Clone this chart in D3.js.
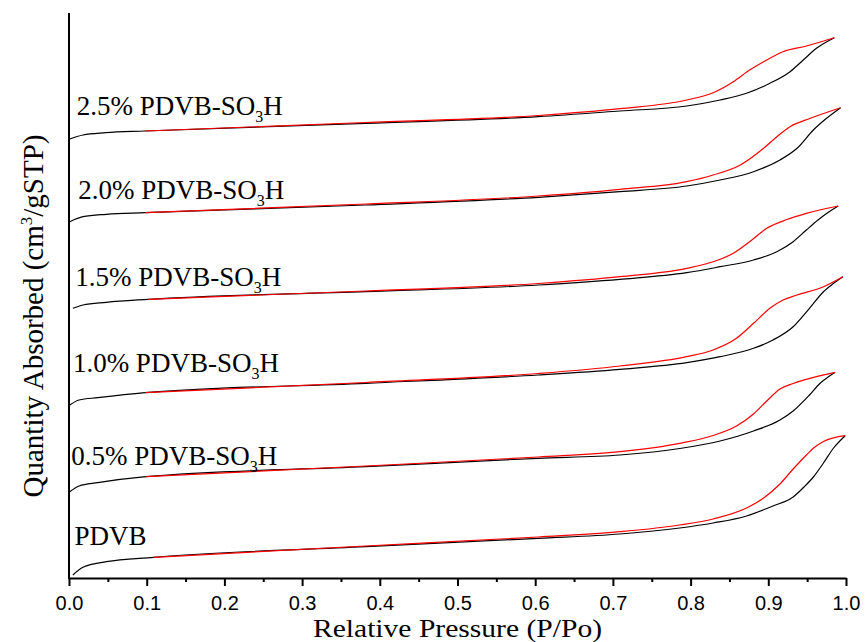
<!DOCTYPE html>
<html>
<head>
<meta charset="utf-8">
<script src="https://cdn.jsdelivr.net/npm/d3@7"></script>
<style>
  body { margin: 0; background: #fff; }
  svg { display: block; }
  .serif { font-family: "Liberation Serif", "Times New Roman", Times, serif; }
  .sans { font-family: "Liberation Sans", Arial, Helvetica, sans-serif; }
</style>
</head>
<body>
<div id="chart"></div>
<script>
// isotherms, [P/Po, quantity (offset, arbitrary units)]
const samples = ["PDVB", "0.5%", "1.0%", "1.5%", "2.0%", "2.5%"];

const pdvbAds = [[0.005,3],[0.018,10.7],[0.048,16.3],[0.109,20.7],[0.382,31.3],[0.604,39.7],[0.709,44],[0.786,50],[0.829,55],[0.872,62],[0.906,72],[0.932,81],[0.946,91],[0.958,101],[0.971,115],[0.984,130],[0.999,142.3]];
const pdvbDes = [[0.109,20.7],[0.382,32],[0.604,41],[0.709,46.3],[0.786,53],[0.829,59],[0.872,70],[0.894,80],[0.915,94],[0.932,109],[0.949,123],[0.960,131],[0.971,136.5],[0.999,142.3]];

const s05Ads = [[0.001,86.3],[0.013,92],[0.037,95.3],[0.099,101.3],[0.382,111.3],[0.604,119.7],[0.709,123],[0.786,129.5],[0.838,137],[0.881,147],[0.915,158],[0.932,167],[0.953,183],[0.967,195],[0.977,201],[0.986,205.7]];
const s05Des = [[0.099,101.3],[0.382,112],[0.604,121],[0.709,126.3],[0.786,134.7],[0.829,142.5],[0.859,152],[0.881,164],[0.898,177],[0.915,189],[0.932,194.5],[0.949,198.7],[0.986,205.7]];

const s10Ads = [[0.001,173],[0.013,178],[0.037,180.3],[0.098,185.3],[0.382,194.7],[0.604,203],[0.709,208.7],[0.795,215.3],[0.838,221.3],[0.881,229.7],[0.906,238],[0.932,251.3],[0.953,269.7],[0.971,286.3],[0.984,294.7],[0.996,301.3]];
const s10Des = [[0.098,185.3],[0.382,195.5],[0.604,204.5],[0.709,212],[0.795,221.3],[0.829,228],[0.859,239.7],[0.881,254.7],[0.902,269.7],[0.919,278],[0.937,283],[0.971,291.3],[0.996,301.3]];

const s15Ads = [[0.005,269.7],[0.018,273],[0.048,275.7],[0.102,278.7],[0.382,286.3],[0.604,293],[0.709,298.7],[0.795,305.3],[0.838,311.3],[0.881,318],[0.911,326.3],[0.932,336.3],[0.949,348],[0.964,358],[0.975,364.5],[0.99,372]];
const s15Des = [[0.102,278.7],[0.382,287],[0.604,294.5],[0.709,301.3],[0.795,309.7],[0.829,316.3],[0.855,324.7],[0.876,336.3],[0.898,349.7],[0.924,358.5],[0.949,364.7],[0.99,372]];

const s20Ads = [[0.001,356.3],[0.018,361.3],[0.048,363.7],[0.098,365.3],[0.382,373],[0.604,380.7],[0.709,386.3],[0.795,392],[0.838,398],[0.881,406.3],[0.915,418],[0.937,429.7],[0.958,448],[0.975,459.7],[0.993,470.3]];
const s20Des = [[0.098,365.3],[0.382,374],[0.604,382],[0.709,388.7],[0.795,396.3],[0.829,403],[0.864,413],[0.894,429.7],[0.911,441.3],[0.928,451.3],[0.954,459.7],[0.993,470.3]];

const s25Ads = [[0.0,438.7],[0.018,443],[0.047,445.3],[0.098,447],[0.382,454.7],[0.604,461.3],[0.709,467],[0.795,472],[0.838,478],[0.872,484.7],[0.902,494.7],[0.928,506.3],[0.945,518],[0.962,529.7],[0.985,540.3]];
const s25Des = [[0.098,447],[0.382,455.5],[0.604,462.5],[0.709,469.3],[0.795,478],[0.829,485.3],[0.855,496.3],[0.876,508],[0.894,516.3],[0.919,526.3],[0.949,532],[0.985,540.3]];

const adsorption = [pdvbAds, s05Ads, s10Ads, s15Ads, s20Ads, s25Ads];
const desorption = [pdvbDes, s05Des, s10Des, s15Des, s20Des, s25Des];

// label anchor: [P/Po, quantity] of text start/baseline
const labelPos = [[0.007,33],[0.003,113],[0.005,206],[0.008,292],[0.012,379],[0.010,463]];

const xTicks = d3.range(0, 1.0001, 0.1);
const xMinor = d3.range(0.05, 1, 0.1);

const width = 867, height = 642;
const margin = {left: 69, right: 21, top: 13, bottom: 64};

const svg = d3.select("#chart").append("svg")
    .attr("width", width)
    .attr("height", height);

const x = d3.scaleLinear().domain([0, 1]).range([margin.left, width - margin.right]);
const y = d3.scaleLinear().domain([0, 565]).range([height - margin.bottom, margin.top]);

const line = d3.line()
    .x(d => x(d[0]))
    .y(d => y(d[1]))
    .curve(d3.curveMonotoneX);

const curves = svg.append("g").attr("fill", "none").attr("stroke-width", 1.2);

adsorption.forEach(s => {
    curves.append("path").attr("d", line(s)).attr("stroke", "#000");
});
desorption.forEach(s => {
    curves.append("path").attr("d", line(s)).attr("stroke", "#ff0000");
});

// sample labels
samples.forEach((name, i) => {
    const t = svg.append("text")
        .attr("class", "serif")
        .attr("x", x(labelPos[i][0]))
        .attr("y", y(labelPos[i][1]))
        .style("font-size", "27px")
        .attr("fill", "#000");
    if (name === "PDVB") {
        t.text("PDVB");
    } else {
        t.append("tspan").text(name + " PDVB-SO");
        t.append("tspan").style("font-size", "16px").attr("dy", 7).text("3");
        t.append("tspan").attr("dy", -7).text("H");
    }
});

// axes
const xAxis = svg.append("g")
    .attr("transform", `translate(0,${y(0)})`)
    .call(d3.axisBottom(x).tickValues(xTicks).tickFormat(d3.format(".1f")).tickSize(8).tickSizeOuter(0));

xAxis.select(".domain").attr("stroke-width", 2);
xAxis.selectAll(".tick line").attr("stroke-width", 2);
xAxis.selectAll(".tick text")
    .attr("class", "sans")
    .style("font-size", "20px")
    .attr("fill", "#000")
    .attr("dy", null)
    .attr("y", 32);

const xMinorAxis = svg.append("g")
    .attr("transform", `translate(0,${y(0)})`)
    .call(d3.axisBottom(x).tickValues(xMinor).tickFormat("").tickSize(4).tickSizeOuter(0));
xMinorAxis.select(".domain").remove();
xMinorAxis.selectAll(".tick line").attr("stroke-width", 2);

svg.append("line")
    .attr("x1", x(0)).attr("x2", x(0))
    .attr("y1", y(0) + 1).attr("y2", y(565))
    .attr("stroke", "#000")
    .attr("stroke-width", 2);

// axis titles
svg.append("text")
    .attr("class", "serif")
    .attr("transform", `translate(${x(0.5)},637) scale(1.16,1)`)
    .attr("text-anchor", "middle")
    .style("font-size", "25.5px")
    .text("Relative Pressure (P/Po)");

const yTitle = svg.append("text")
    .attr("class", "serif")
    .attr("transform", "translate(43,316) rotate(-90)")
    .attr("text-anchor", "middle")
    .style("font-size", "29px");
yTitle.append("tspan").text("Quantity Absorbed (cm");
yTitle.append("tspan").style("font-size", "17px").attr("dy", -11).text("3");
yTitle.append("tspan").attr("dy", 11).text("/gSTP)");
</script>
</body>
</html>
